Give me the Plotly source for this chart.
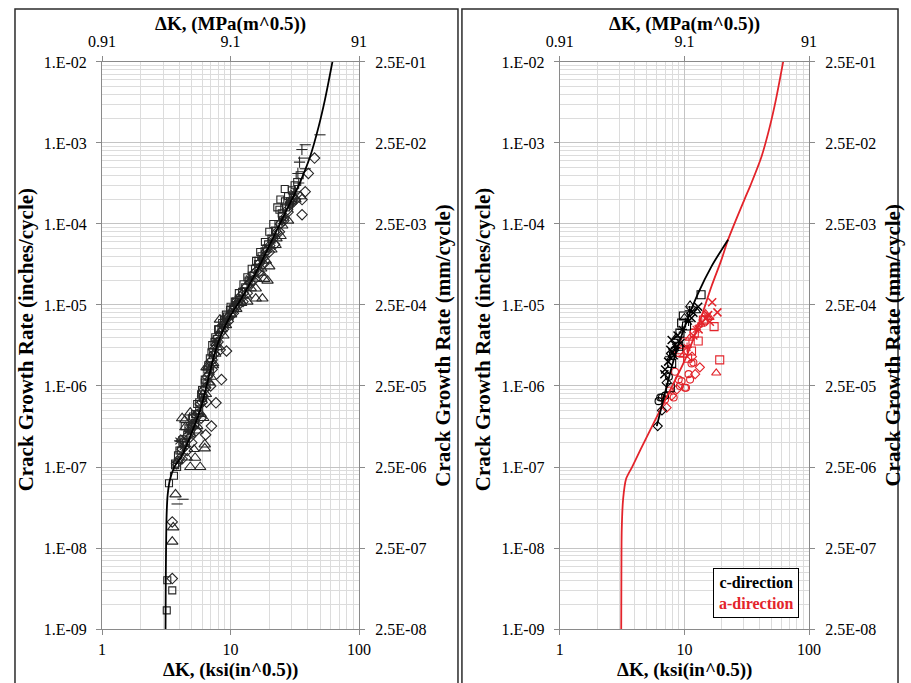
import math
import plotly.graph_objects as go

# ---------------------------------------------------------------------------
# Axis tick definitions
# ---------------------------------------------------------------------------
k_ticks = [1, 10, 100]                       # ksi(in^0.5)
k_labels = ["1", "10", "100"]
mpa_ticks = [0.91, 9.1, 91]                  # MPa(m^0.5)
mpa_labels = ["0.91", "9.1", "91"]
rate_in_ticks = [1e-9, 1e-8, 1e-7, 1e-6, 1e-5, 1e-4, 1e-3, 1e-2]
rate_in_labels = ["1.E-09", "1.E-08", "1.E-07", "1.E-06", "1.E-05", "1.E-04", "1.E-03", "1.E-02"]
rate_mm_ticks = [2.5e-8, 2.5e-7, 2.5e-6, 2.5e-5, 2.5e-4, 2.5e-3, 2.5e-2, 2.5e-1]
rate_mm_labels = ["2.5E-08", "2.5E-07", "2.5E-06", "2.5E-05", "2.5E-04", "2.5E-03", "2.5E-02", "2.5E-01"]

# ---------------------------------------------------------------------------
# Left panel: all test data with the fitted growth curve
# ---------------------------------------------------------------------------
fit_k = [3.12, 3.13, 3.15, 3.18, 3.24, 3.38, 3.65, 4.2, 5.0, 5.8, 6.6, 7.4, 8.4,
         9.9, 12.5, 16.7, 21.2, 26.8, 33.9, 41.6, 48.5, 54.2, 62.0]
fit_da = [1e-9, 3e-9, 1e-8, 2.5e-8, 4.5e-8, 7e-8, 1.0e-7, 1.4e-7, 2.7e-7, 5.0e-7,
          1.1e-6, 2.3e-6, 4.2e-6, 7.2e-6, 1.3e-5, 3.0e-5, 6.5e-5, 1.4e-4, 3.0e-4,
          6.8e-4, 1.6e-3, 3.4e-3, 1.0e-2]

sq_k = [3.19, 3.22, 3.52, 3.32, 3.63, 3.84, 3.7, 4.0, 4.3, 4.6, 4.4, 5.0, 5.3, 5.7,
        6.0, 6.3, 6.6, 6.9, 7.2, 7.6, 8.0, 8.6, 9.2, 10.0, 10.8, 11.6, 12.6, 13.5,
        14.6, 15.8, 17.0, 18.5, 20.0, 21.5, 23.1, 24.4, 26.4, 19.0, 16.5]
sq_da = [1.7e-9, 4.0e-9, 3.0e-9, 6.3e-8, 7.8e-8, 1.0e-7, 1.1e-7, 1.6e-7, 2.0e-7,
         2.5e-7, 3.2e-7, 4.0e-7, 4.5e-7, 6.3e-7, 8.9e-7, 1.1e-6, 1.6e-6, 2.2e-6,
         3.2e-6, 4.0e-6, 5.0e-6, 6.0e-6, 7.6e-6, 9.5e-6, 1.1e-5, 1.4e-5, 1.8e-5,
         2.2e-5, 2.8e-5, 3.5e-5, 4.5e-5, 6.0e-5, 8.0e-5, 1.0e-4, 1.6e-4, 2.0e-4,
         2.7e-4, 5.0e-5, 3.5e-5]

sq2_k = [3.7, 3.9, 4.1, 4.3, 4.5, 4.7, 4.9, 5.1, 5.3, 5.5, 5.7, 5.9, 6.1, 6.3, 6.5,
         6.7, 6.9, 7.1, 7.3, 7.5, 7.8, 8.1, 8.5, 8.9, 9.4, 9.9, 10.4, 11.0, 11.6,
         12.3, 13.0, 13.8, 14.6, 15.5, 16.4, 17.4, 18.4, 19.6, 20.8, 22.2, 23.6,
         25.2, 27.0, 29.0]
sq2_da = [1.05e-7, 1.4e-7, 1.6e-7, 2.2e-7, 2.0e-7, 3.0e-7, 2.8e-7, 4.2e-7, 3.5e-7,
          6.0e-7, 5.0e-7, 7.9e-7, 7.1e-7, 1.2e-6, 1.05e-6, 1.8e-6, 1.6e-6, 2.6e-6,
          2.4e-6, 3.5e-6, 3.8e-6, 5.0e-6, 5.2e-6, 6.6e-6, 7.2e-6, 8.7e-6, 9.1e-6,
          1.1e-5, 1.2e-5, 1.45e-5, 1.65e-5, 2.0e-5, 2.3e-5, 2.8e-5, 3.2e-5, 4.0e-5,
          4.6e-5, 5.6e-5, 6.6e-5, 8.3e-5, 1.0e-4, 1.26e-4, 1.6e-4, 1.9e-4]

sq3_k = [24.0, 25.0, 26.5, 28.0, 30.0, 31.5, 33.0, 34.5, 30.5, 28.5]
sq3_da = [1.5e-4, 1.35e-4, 1.9e-4, 2.2e-4, 2.6e-4, 3.0e-4, 3.3e-4, 4.0e-4, 2.1e-4, 1.7e-4]

dia_k = [3.52, 3.52, 4.2, 4.6, 5.0, 5.4, 5.9, 6.4, 6.5, 7.0, 7.2, 7.5, 8.3, 8.0,
         8.8, 9.6, 10.5, 11.5, 12.5, 13.5, 15.0, 16.5, 18.0, 20.0, 22.0, 24.0,
         26.0, 28.0, 30.0, 32.0, 36.0, 38.1, 36.0, 40.3, 45.0, 8.5, 7.7, 7.1, 9.3]
dia_da = [2.1e-8, 4.2e-9, 1.26e-7, 1.6e-7, 2.0e-7, 2.8e-7, 4.0e-7, 2.5e-7, 6.3e-7,
          1.0e-6, 1.6e-6, 2.5e-6, 2.8e-6, 3.5e-6, 5.0e-6, 6.3e-6, 7.9e-6, 1.0e-5,
          1.1e-5, 1.4e-5, 2.0e-5, 2.5e-5, 3.2e-5, 4.5e-5, 5.6e-5, 8.0e-5, 1.1e-4,
          1.4e-4, 1.8e-4, 2.0e-4, 1.3e-4, 2.5e-4, 2.0e-4, 4.2e-4, 6.5e-4, 1.2e-6,
          6.2e-7, 3.2e-7, 2.7e-6]

dia2_k = [3.8, 4.0, 4.2, 4.4, 4.6, 4.8, 5.0, 5.2, 5.4, 5.6, 5.8, 6.0, 6.2, 6.4, 6.6,
          6.8, 7.0, 7.2, 7.4, 7.7, 8.0, 8.3, 8.7, 9.1, 9.6, 10.1, 10.7, 11.3, 11.9,
          12.6, 13.4, 14.2, 15.0, 15.9, 16.9, 17.9, 19.0, 20.2, 21.5, 22.9, 24.4,
          26.0, 27.8, 30.0]
dia2_da = [1.1e-7, 1.26e-7, 1.66e-7, 1.8e-7, 2.4e-7, 2.3e-7, 3.2e-7, 3.3e-7, 4.4e-7,
           4.5e-7, 6.0e-7, 6.3e-7, 8.9e-7, 9.5e-7, 1.3e-6, 1.4e-6, 2.0e-6, 2.1e-6,
           2.8e-6, 3.2e-6, 4.0e-6, 4.5e-6, 5.6e-6, 6.0e-6, 7.1e-6, 7.9e-6, 9.5e-6,
           1.05e-5, 1.26e-5, 1.4e-5, 1.7e-5, 1.9e-5, 2.4e-5, 2.6e-5, 3.3e-5, 3.8e-5,
           4.6e-5, 5.4e-5, 6.6e-5, 7.9e-5, 1.0e-4, 1.17e-4, 1.5e-4, 1.9e-4]

tri_k = [3.58, 3.52, 3.73, 4.86, 5.8, 5.3, 6.3, 6.3, 4.86, 4.45, 4.2, 5.5, 6.7,
         8.27, 6.1, 7.0, 7.3, 7.6, 8.8, 9.5, 10.5, 12.0, 13.5, 15.7, 17.7, 15.7,
         18.3, 19.4, 17.2, 20.0, 22.4, 24.5, 28.0, 32.0, 35.0, 6.5]
tri_da = [1.8e-8, 1.2e-8, 4.6e-8, 1.0e-7, 1.0e-7, 1.3e-7, 1.7e-7, 1.9e-7, 4.7e-7,
          3.1e-7, 4.0e-7, 3.2e-7, 1.7e-6, 6.6e-6, 7.9e-7, 1.3e-6, 1.8e-6, 2.5e-6,
          4.2e-6, 7.1e-6, 8.9e-6, 1.1e-5, 1.1e-5, 1.2e-5, 1.2e-5, 1.6e-5, 2.1e-5,
          2.0e-5, 2.5e-5, 3.0e-5, 5.5e-5, 7.1e-5, 1.1e-4, 2.0e-4, 2.2e-4, 1.7e-6]

tri2_k = [3.9, 4.1, 4.4, 4.6, 4.9, 5.2, 5.6, 5.9, 6.2, 6.5, 6.9, 7.4, 7.9, 8.6, 9.3,
          10.2, 11.2, 12.2, 13.3, 14.5, 16.0, 17.5, 19.0, 21.0, 23.0, 25.5]
tri2_da = [1.2e-7, 2.2e-7, 3.8e-7, 1.3e-7, 2.5e-7, 1.66e-7, 2.8e-7, 4.5e-7, 4.0e-7,
           7.9e-7, 1.1e-6, 1.9e-6, 3.0e-6, 5.0e-6, 5.6e-6, 7.6e-6, 8.9e-6, 1.05e-5,
           1.3e-5, 1.6e-5, 2.1e-5, 2.8e-5, 3.5e-5, 4.8e-5, 6.6e-5, 9.5e-5]

ast_k = [3.96, 4.3, 4.7, 5.1, 6.2, 7.8, 9.0, 11.0, 14.0, 17.5, 21.0, 25.0, 29.5, 31.0]
ast_da = [2.1e-7, 1.8e-7, 2.8e-7, 3.5e-7, 7.1e-7, 3.5e-6, 6.3e-6, 1.1e-5, 2.1e-5,
          3.8e-5, 6.3e-5, 1.1e-4, 1.8e-4, 2.4e-4]

plus_k = [35.9, 34.4, 33.4, 33.9, 31.5, 29.0]
plus_da = [8.3e-4, 5.8e-4, 4.2e-4, 3.2e-4, 2.5e-4, 2.0e-4]

dash_k = [38.1, 37.0, 38.1, 49.6, 4.27, 3.84]
dash_da = [9.5e-4, 6.5e-4, 4.8e-4, 1.26e-3, 4.0e-8, 3.5e-8]

# ---------------------------------------------------------------------------
# Right panel: c-direction vs a-direction
# ---------------------------------------------------------------------------
c_fit_k = [6.0, 7.0, 8.2, 10.1, 12.9, 16.5, 22.4]
c_fit_da = [3.2e-7, 8.3e-7, 2.1e-6, 5.5e-6, 1.4e-5, 3.0e-5, 6.4e-5]

a_fit_k = [3.11, 3.12, 3.14, 3.22, 3.4, 3.8, 4.45, 7.03, 10.1, 12.9, 16.5, 19.8,
           22.4, 30.3, 33.9, 41.6, 48.5, 54.2, 62.0]
a_fit_da = [1e-9, 5e-9, 1.7e-8, 4.0e-8, 7.1e-8, 1.0e-7, 1.65e-7, 6.8e-7, 2.1e-6,
            5.5e-6, 1.7e-5, 3.6e-5, 6.4e-5, 2.0e-4, 3.0e-4, 6.8e-4, 1.6e-3, 3.4e-3, 1.0e-2]

c_sq_k = [13.6, 9.8, 9.5, 10.4, 9.0, 7.9, 7.7, 9.2]
c_sq_da = [1.34e-5, 7.3e-6, 6.0e-6, 5.5e-6, 3.1e-6, 1.9e-6, 9.5e-7, 4.5e-6]
c_tri_k = [11.1, 12.4, 8.6, 10.0]
c_tri_da = [1.0e-5, 8.5e-6, 4.0e-6, 7.0e-6]
c_x_k = [11.4, 7.9, 8.4, 8.2, 7.0, 7.7, 11.8, 12.9, 8.8, 9.3, 7.4, 8.0, 6.9]
c_x_da = [6.9e-6, 3.7e-6, 3.2e-6, 2.4e-6, 1.6e-6, 2.8e-6, 8.0e-6, 9.5e-6, 4.2e-6,
          3.4e-6, 2.0e-6, 2.6e-6, 1.4e-6]
c_ast_k = [10.8, 9.6, 8.5, 11.0, 7.6]
c_ast_da = [6.3e-6, 5.0e-6, 3.0e-6, 8.5e-6, 2.3e-6]
c_circ_k = [6.6, 7.0, 6.4, 7.5, 6.2]
c_circ_da = [7.2e-7, 7.6e-7, 7.2e-7, 1.3e-6, 6.5e-7]
c_dia_k = [6.1, 6.6, 7.2]
c_dia_da = [3.2e-7, 5.0e-7, 1.1e-6]

a_x_k = [16.7, 18.4, 15.5, 14.8, 13.0, 11.8, 16.0]
a_x_da = [1.08e-5, 8.1e-6, 7.5e-6, 6.8e-6, 5.0e-6, 4.2e-6, 6.2e-6]
a_sq_k = [17.3, 19.2, 12.9, 11.4, 9.2, 9.0, 10.1, 14.2, 12.0, 10.6]
a_sq_da = [5.4e-6, 2.1e-6, 3.6e-6, 2.7e-6, 2.6e-6, 2.8e-6, 3.5e-6, 6.5e-6, 4.5e-6, 2.2e-6]
a_tri_k = [18.0, 14.8, 15.9, 13.5, 11.0, 9.8]
a_tri_da = [1.45e-6, 7.8e-6, 7.0e-6, 5.8e-6, 3.9e-6, 2.4e-6]
a_dia_k = [13.3, 12.2, 7.2, 8.7, 11.5, 7.9]
a_dia_da = [1.7e-6, 1.4e-6, 5.4e-7, 9.1e-7, 2.3e-6, 7.6e-7]
a_circ_k = [10.8, 11.4, 11.1, 10.1, 9.0, 9.2, 8.2, 11.8, 9.5, 10.3, 7.0, 7.6, 8.4]
a_circ_da = [1.4e-6, 1.9e-6, 1.2e-6, 9.5e-7, 1.2e-6, 1.0e-6, 7.2e-7, 1.95e-6,
             1.15e-6, 9.5e-7, 6.8e-7, 8.8e-7, 1.5e-6]
a_ast_k = [15.2, 13.8, 12.4, 10.5]
a_ast_da = [7.2e-6, 6.0e-6, 5.0e-6, 3.0e-6]

# ---------------------------------------------------------------------------
# Styling
# ---------------------------------------------------------------------------
W, H = 911, 683
# the page's default 8 px body margin leaves this much room for the plot
VIEW_W, VIEW_H = W - 16, H - 16
SERIF = "Liberation Serif"
GRID = "#c4c4c4"
MINOR_GRID = "#dcdcdc"
FRAME = "#8a8a8a"
DARK = "#262626"
RED = "#e3242b"


def px_x(p):
    return p / VIEW_W


def px_y(p):
    return 1 - p / VIEW_H


LEFT_X = [px_x(89), px_x(349)]
RIGHT_X = [px_x(552), px_x(804)]
PLOT_Y = [px_y(622), px_y(54)]

fig = go.Figure()


def markers(k, da, symbol, color, size, xa, ya, width=1.1):
    fig.add_trace(go.Scatter(
        x=k, y=da, mode="markers", xaxis=xa, yaxis=ya, showlegend=False,
        hoverinfo="skip",
        marker=dict(symbol=symbol, size=size, color=color,
                    line=dict(color=color, width=width)),
    ))


def curve(k, da, color, xa, ya):
    fig.add_trace(go.Scatter(
        x=k, y=da, mode="lines", xaxis=xa, yaxis=ya, showlegend=False,
        hoverinfo="skip", line=dict(color=color, width=1.8, shape="spline", smoothing=0.8),
    ))


def axis_anchor(xv, yv, xa, ya):
    # invisible points so the secondary (unit-converted) axes are drawn
    fig.add_trace(go.Scatter(
        x=xv, y=yv, mode="markers", xaxis=xa, yaxis=ya, showlegend=False,
        hoverinfo="skip", marker=dict(opacity=0, size=1),
    ))


# left panel marks
markers(sq_k, sq_da, "square-open", DARK, 7, "x", "y")
markers(sq2_k, sq2_da, "square-open", DARK, 7, "x", "y")
markers(sq3_k, sq3_da, "square-open", DARK, 7, "x", "y")
markers(dia_k, dia_da, "diamond-open", DARK, 8, "x", "y")
markers(dia2_k, dia2_da, "diamond-open", DARK, 8, "x", "y")
markers(tri_k, tri_da, "triangle-up-open", DARK, 10, "x", "y")
markers(tri2_k, tri2_da, "triangle-up-open", DARK, 9, "x", "y")
markers(ast_k, ast_da, "asterisk-open", DARK, 8, "x", "y")
markers(plus_k, plus_da, "cross-thin-open", DARK, 8, "x", "y")
markers(dash_k, dash_da, "line-ew-open", DARK, 8, "x", "y")
curve(fit_k, fit_da, "black", "x", "y")

# right panel marks
markers(a_sq_k, a_sq_da, "square-open", RED, 8, "x2", "y3")
markers(a_tri_k, a_tri_da, "triangle-up-open", RED, 8, "x2", "y3")
markers(a_dia_k, a_dia_da, "diamond-open", RED, 7, "x2", "y3")
markers(a_circ_k, a_circ_da, "circle-open", RED, 7, "x2", "y3")
markers(a_x_k, a_x_da, "x-thin-open", RED, 8, "x2", "y3", 1.5)
markers(a_ast_k, a_ast_da, "asterisk-open", RED, 8, "x2", "y3")
markers(c_sq_k, c_sq_da, "square-open", "black", 8, "x2", "y3")
markers(c_tri_k, c_tri_da, "triangle-up-open", "black", 8, "x2", "y3")
markers(c_dia_k, c_dia_da, "diamond-open", "black", 7, "x2", "y3")
markers(c_circ_k, c_circ_da, "circle-open", "black", 7, "x2", "y3")
markers(c_x_k, c_x_da, "x-thin-open", "black", 8, "x2", "y3", 1.5)
markers(c_ast_k, c_ast_da, "asterisk-open", "black", 8, "x2", "y3")
curve(a_fit_k, a_fit_da, RED, "x2", "y3")
curve(c_fit_k, c_fit_da, "black", "x2", "y3")

# secondary axes: MPa(m^0.5) on top, mm/cycle on the right
axis_anchor(mpa_ticks, rate_in_ticks[:3], "x3", "y")
axis_anchor(k_ticks, rate_mm_ticks[:3], "x", "y2")
axis_anchor(mpa_ticks, rate_in_ticks[:3], "x4", "y3")
axis_anchor(k_ticks, rate_mm_ticks[:3], "x2", "y4")

tick_font = dict(family=SERIF, size=16, color="black")


def main_x(domain, anchor):
    return dict(domain=domain, anchor=anchor, type="log", range=[0, 2],
                tickmode="array", tickvals=k_ticks, ticktext=k_labels,
                showgrid=True, gridcolor=GRID, gridwidth=1,
                minor=dict(dtick="D1", showgrid=True, gridcolor=MINOR_GRID, ticks=""),
                showline=True, linecolor=FRAME, linewidth=1, mirror=True,
                ticks="outside", ticklen=5, tickcolor=FRAME,
                tickfont=tick_font, ticklabelstandoff=1, zeroline=False)


def top_x(over, anchor):
    return dict(overlaying=over, anchor=anchor, side="top", type="log",
                range=[math.log10(mpa_ticks[0]), math.log10(mpa_ticks[-1])],
                tickmode="array", tickvals=mpa_ticks, ticktext=mpa_labels,
                showgrid=False, ticks="outside", ticklen=5, tickcolor=FRAME,
                tickfont=tick_font, ticklabelstandoff=3, zeroline=False)


def main_y(anchor):
    return dict(domain=PLOT_Y, anchor=anchor, type="log", range=[-9, -2],
                tickmode="array", tickvals=rate_in_ticks, ticktext=rate_in_labels,
                showgrid=True, gridcolor=GRID, gridwidth=1,
                minor=dict(dtick="D1", showgrid=True, gridcolor=MINOR_GRID, ticks=""),
                showline=True, linecolor=FRAME, linewidth=1, mirror=True,
                ticks="outside", ticklen=5, tickcolor=FRAME,
                tickfont=tick_font, ticklabelstandoff=6, zeroline=False)


def right_y(over, anchor):
    return dict(overlaying=over, anchor=anchor, side="right", type="log",
                range=[math.log10(rate_mm_ticks[0]), math.log10(rate_mm_ticks[-1])],
                tickmode="array", tickvals=rate_mm_ticks, ticktext=rate_mm_labels,
                showgrid=False, ticks="outside", ticklen=5, tickcolor=FRAME,
                tickfont=tick_font, ticklabelstandoff=7, zeroline=False)


def title(text, x, y, angle=0, size=19):
    return dict(text="<b>" + text + "</b>", x=x, y=y, xref="paper", yref="paper",
                showarrow=False, textangle=angle,
                font=dict(family=SERIF, size=size, color="black"),
                xanchor="center", yanchor="middle")


annotations = []
for cx, ly, ry in [(219, 12, 434), (678, 474, 889)]:
    annotations.append(title("ΔK, (MPa(m^0.5))", px_x(cx), px_y(16)))
    annotations.append(title("ΔK, (ksi(in^0.5))", px_x(cx), px_y(663)))
    annotations.append(title("Crack Growth Rate (inches/cycle)", px_x(ly), px_y(332), -90, 21))
    annotations.append(title("Crack Growth Rate (mm/cycle)", px_x(ry), px_y(338), -90, 21))

annotations.append(dict(
    text="<b>c-direction</b><br><b><span style='color:%s'>a-direction</span></b>" % RED,
    x=px_x(750), y=px_y(586), xref="paper", yref="paper", showarrow=False,
    xanchor="center", yanchor="middle", align="center",
    font=dict(family=SERIF, size=16, color="black"),
    bordercolor="black", borderwidth=1, borderpad=5, bgcolor="white",
))

shapes = [
    dict(type="rect", xref="paper", yref="paper", x0=px_x(1), x1=px_x(449),
         y0=-0.02, y1=px_y(1), line=dict(color="#2b2b2b", width=1.5)),
    dict(type="rect", xref="paper", yref="paper", x0=px_x(453), x1=px_x(894),
         y0=-0.02, y1=px_y(1), line=dict(color="#2b2b2b", width=1.5)),
]

fig.update_layout(
    width=W, height=H, margin=dict(l=0, r=0, t=0, b=0),
    paper_bgcolor="white", plot_bgcolor="white",
    xaxis=main_x(LEFT_X, "y"),
    xaxis2=main_x(RIGHT_X, "y3"),
    xaxis3=top_x("x", "y"),
    xaxis4=top_x("x2", "y3"),
    yaxis=main_y("x"),
    yaxis2=right_y("y", "x"),
    yaxis3=main_y("x2"),
    yaxis4=right_y("y3", "x2"),
    annotations=annotations,
    shapes=shapes,
    showlegend=False,
)

fig.write_html("out.html")
